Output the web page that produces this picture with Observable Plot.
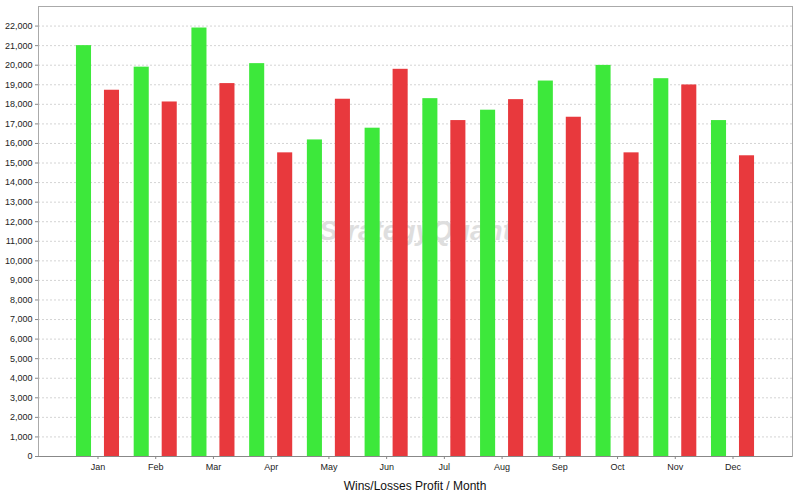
<!DOCTYPE html>
<html>
<head>
<meta charset="utf-8">
<script src="https://cdn.jsdelivr.net/npm/d3@7"></script>
<script src="https://cdn.jsdelivr.net/npm/@observablehq/plot@0.6"></script>
<style>
  html, body { margin: 0; padding: 0; background: #fff; }
  #chart { width: 800px; }
  #title { width: 800px; height: 24px; font: 12px "Liberation Sans", Arial, sans-serif; color: #111; }
  #title span { display: block; margin-left: 38px; width: 754px; text-align: center; line-height: 20px; }
</style>
</head>
<body>
<div id="chart"></div>
<div id="title"><span>Wins/Losses Profit / Month</span></div>
<script>
const months = ["Jan", "Feb", "Mar", "Apr", "May", "Jun", "Jul", "Aug", "Sep", "Oct", "Nov", "Dec"];
const wins = [21000, 19900, 21900, 20080, 16180, 16780, 18290, 17700, 19190, 19990, 19310, 17170];
const losses = [18720, 18120, 19060, 15520, 18260, 19790, 17170, 18240, 17340, 15520, 18990, 15370];
const yTicks = d3.range(0, 23000, 1000);
const watermark = ["StrategyQuant"];

const winData = months.map((m, i) => ({month: m, value: wins[i]}));
const lossData = months.map((m, i) => ({month: m, value: losses[i]}));
const fmt = d3.format(",");

const chart = Plot.plot({
  width: 800,
  height: 476,
  marginTop: 6,
  marginLeft: 38,
  marginRight: 8,
  marginBottom: 20,
  style: {fontFamily: "'Liberation Sans', Arial, sans-serif", fontSize: "9px", color: "#222", background: "#fff"},
  x: {type: "band", domain: months, paddingInner: 0.739, paddingOuter: 0.9, align: 0.5, round: false, label: null},
  y: {domain: [0, 23000], label: null},
  marks: [
    Plot.gridY(yTicks, {stroke: "#d4d4d4", strokeOpacity: 1, strokeDasharray: "2,2"}),
    Plot.text(watermark, {frameAnchor: "middle", text: d => d, fontSize: 28, fontStyle: "italic", fontWeight: "bold", fill: "#dedede"}),
    Plot.barY(winData, {x: "month", y: "value", fill: "#3de83b", dx: -14}),
    Plot.barY(lossData, {x: "month", y: "value", fill: "#e8393d", dx: 14}),
    Plot.frame({stroke: "#aaa"}),
    Plot.ruleY([0], {stroke: "#888"}),
    Plot.axisY(yTicks, {tickFormat: fmt, tickSize: 3, tickPadding: 3, stroke: "#888", label: null}),
    Plot.axisX({tickSize: 3, tickPadding: 4, stroke: "#888", label: null})
  ]
});
document.getElementById("chart").appendChild(chart);
</script>
</body>
</html>
